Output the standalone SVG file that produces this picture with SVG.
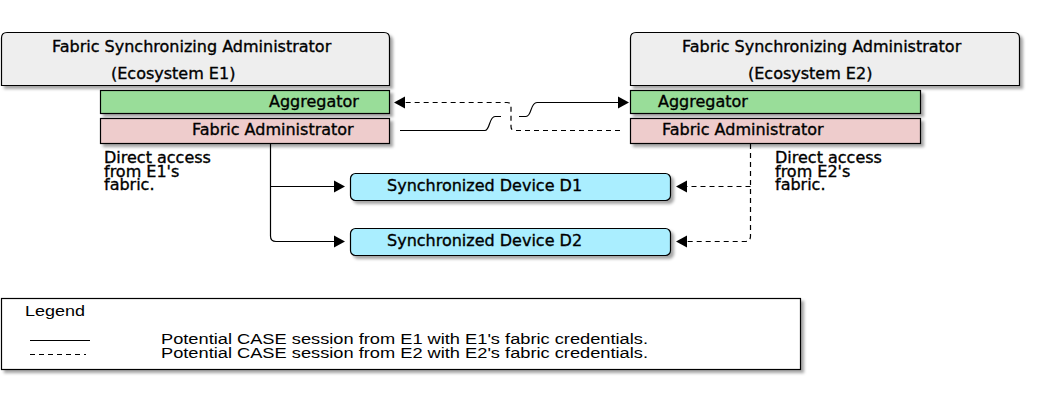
<svg xmlns="http://www.w3.org/2000/svg" width="1042" height="400" viewBox="0 0 1042 400">
<defs>
<filter id="sh" x="-5%" y="-20%" width="110%" height="150%">
<feDropShadow dx="3" dy="3" stdDeviation="1.5" flood-color="#000" flood-opacity="0.35"/>
</filter>
<style>
.t{font-family:"DejaVu Sans",sans-serif;font-size:16px;fill:#000;stroke:#000;stroke-width:0.35}
.l{font-family:"Liberation Sans",Arial,sans-serif;font-size:15.5px;fill:#000}
.box{stroke:#000;stroke-width:1.2;filter:url(#sh)}
.top{fill:#eeeeee}
.agg{fill:#99dd99}
.fa{fill:#eecccc}
.dev{fill:#aaeeff}
.s{fill:none;stroke:#000;stroke-width:1.2}
.d{fill:none;stroke:#000;stroke-width:1.2;stroke-dasharray:5,4}
.ah{fill:#000}
</style>
</defs>
<rect width="1042" height="400" fill="#fff"/>

<g id="fsa-e1">
<path class="box top" d="M1.5,85.5 V38 Q1.5,32.5 7,32.5 H384 Q389.5,32.5 389.5,38 V85.5 Z"/>
<text class="t" x="52" y="52">Fabric Synchronizing Administrator</text>
<text class="t" x="111" y="79">(Ecosystem E1)</text>
</g>
<g id="agg-e1">
<rect class="box agg" x="100.5" y="90.5" width="289" height="23"/>
<text class="t" x="269" y="107">Aggregator</text>
</g>
<g id="fa-e1">
<rect class="box fa" x="100.5" y="118.5" width="289" height="25"/>
<text class="t" x="192" y="135">Fabric Administrator</text>
</g>

<g id="fsa-e2">
<path class="box top" d="M630.5,85.5 V38 Q630.5,32.5 636,32.5 H1014 Q1019.5,32.5 1019.5,38 V85.5 Z"/>
<text class="t" x="682" y="52">Fabric Synchronizing Administrator</text>
<text class="t" x="748" y="79">(Ecosystem E2)</text>
</g>
<g id="agg-e2">
<rect class="box agg" x="630.5" y="90.5" width="290" height="23"/>
<text class="t" x="658" y="107">Aggregator</text>
</g>
<g id="fa-e2">
<rect class="box fa" x="630.5" y="118.5" width="290" height="25"/>
<text class="t" x="662" y="135">Fabric Administrator</text>
</g>

<g id="note-e1">
<text class="t" x="104" y="163">Direct access<tspan x="104" y="176.5">from E1's</tspan><tspan x="104" y="190">fabric.</tspan></text>
</g>
<g id="note-e2">
<text class="t" x="775" y="163">Direct access<tspan x="775" y="176.5">from E2's</tspan><tspan x="775" y="190">fabric.</tspan></text>
</g>

<g id="dev-d1">
<rect class="box dev" x="350.5" y="173.5" width="320" height="27" rx="5"/>
<text class="t" x="387" y="191">Synchronized Device D1</text>
</g>
<g id="dev-d2">
<rect class="box dev" x="350.5" y="228.5" width="320" height="27" rx="5"/>
<text class="t" x="387" y="246">Synchronized Device D2</text>
</g>

<g id="connectors">
<path class="s" d="M400,130.5 H485 C490,130.5 489,116.5 495,116.5 H501 M519,116.5 H526 C532,116.5 530,102.5 537,102.5 H619"/>
<polygon class="ah" points="618,96.5 629,102.5 618,108.5"/>
<path class="d" d="M620,130.5 H515 Q511,130.5 511,126.5 V106.5 Q511,102.5 507,102.5 H404"/>
<polygon class="ah" points="405,96.5 394,102.5 405,108.5"/>
<path class="s" d="M270.5,144 V236 Q270.5,241.5 276,241.5 H336 M270.5,186.5 H336"/>
<polygon class="ah" points="334,180.5 345,186.5 334,192.5"/>
<polygon class="ah" points="334,235.5 345,241.5 334,247.5"/>
<path class="d" d="M750.5,144 V236 Q750.5,241.5 745,241.5 H686 M750.5,186.5 H686"/>
<polygon class="ah" points="687,180.5 676,186.5 687,192.5"/>
<polygon class="ah" points="687,235.5 676,241.5 687,247.5"/>
</g>

<g id="legend">
<rect class="box" x="1.5" y="298.5" width="799" height="71" fill="#fff"/>
<text class="l" x="25" y="316" textLength="60" lengthAdjust="spacingAndGlyphs">Legend</text>
<line class="s" x1="30" y1="340.5" x2="90" y2="340.5"/>
<line class="d" x1="30" y1="354.5" x2="86" y2="354.5"/>
<text class="l" x="161" y="344" textLength="487" lengthAdjust="spacingAndGlyphs">Potential CASE session from E1 with E1's fabric credentials.</text>
<text class="l" x="161" y="358" textLength="487" lengthAdjust="spacingAndGlyphs">Potential CASE session from E2 with E2's fabric credentials.</text>
</g>
</svg>
